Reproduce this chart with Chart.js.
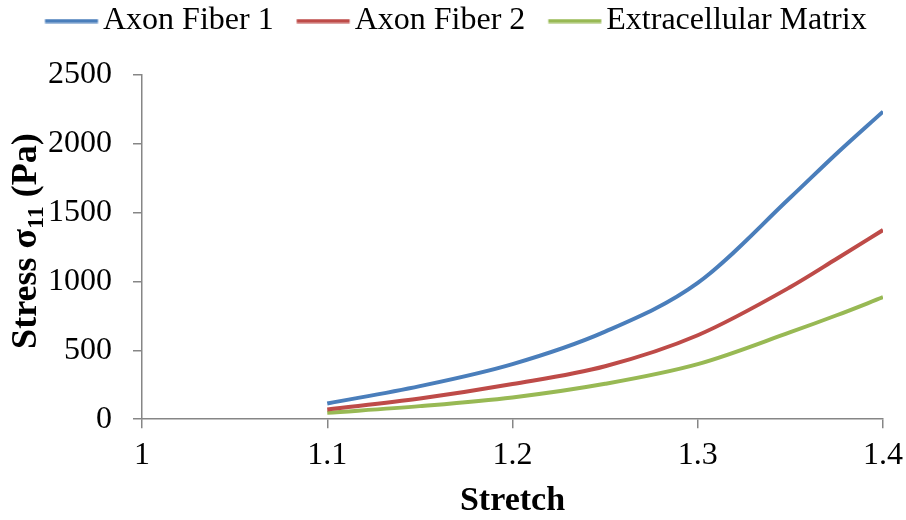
<!DOCTYPE html>
<html><head><meta charset="utf-8">
<script src="https://cdn.jsdelivr.net/npm/chart.js@4"></script>
<style>html,body{margin:0;padding:0;background:#fff;} #wrap{width:906px;height:520px;}</style>
</head><body><div id="wrap"><canvas id="c" width="906" height="520"></canvas></div>
<script>
const stretch = [1.1, 1.15, 1.2, 1.25, 1.3, 1.35, 1.375, 1.4];
const axonFiber1 = [114, 240, 400, 636, 990, 1610, 1930, 2234];
const axonFiber2 = [71, 150, 255, 385, 610, 960, 1165, 1374];
const extracellularMatrix = [46, 95, 158, 257, 400, 632, 755, 886];
const seriesNames = ['Axon Fiber 1', 'Axon Fiber 2', 'Extracellular Matrix'];
const xTickLabels = ['1', '1.1', '1.2', '1.3', '1.4'];
const yTickLabels = ['0', '500', '1000', '1500', '2000', '2500'];
const xTitle = 'Stretch';
const yTitleParts = ['Stress σ', '11', ' (Pa)'];

const colors = ['#4A7EBB', '#BE4B48', '#98B954'];
const FONT = "'Liberation Serif', 'Times New Roman', serif";
Chart.defaults.font.family = FONT;
Chart.defaults.color = '#000';

function legendLine(color) {
  const c = document.createElement('canvas');
  c.width = 90; c.height = 5;
  const g = c.getContext('2d');
  g.strokeStyle = color; g.lineWidth = 4;
  g.beginPath(); g.moveTo(32.5, 2.5); g.lineTo(85.5, 2.5); g.stroke();
  return c;
}

function pts(ys) { return stretch.map((x, i) => ({x: x, y: ys[i]})); }
const allSeries = [axonFiber1, axonFiber2, extracellularMatrix];

const datasets = allSeries.map((s, i) => ({
  label: seriesNames[i],
  data: pts(s),
  borderColor: colors[i],
  backgroundColor: colors[i],
  borderWidth: 4,
  pointRadius: 0,
  pointHoverRadius: 0,
  pointStyle: legendLine(colors[i]),
  cubicInterpolationMode: 'monotone',
  fill: false
}));

const legendSpace = {
  id: 'legendSpace',
  beforeLayout(chart) {
    const lg = chart.legend;
    if (lg && !lg._patched) {
      const fit = lg.fit.bind(lg);
      lg.fit = function () { fit(); this.height += 28; };
      lg._patched = true;
    }
  }
};

const yTitlePlugin = {
  id: 'yTitle',
  afterDraw(chart) {
    const ctx = chart.ctx;
    const a = chart.chartArea;
    const cy = (a.top + a.bottom) / 2 - 6;
    const bx = 36;
    const big = 'bold 36px ' + FONT, small = 'bold 24px ' + FONT;
    ctx.save();
    ctx.font = big; const w0 = ctx.measureText(yTitleParts[0]).width;
    const w2 = ctx.measureText(yTitleParts[2]).width;
    ctx.font = small; const w1 = ctx.measureText(yTitleParts[1]).width;
    const total = w0 + w1 + w2;
    ctx.translate(bx, cy);
    ctx.rotate(-Math.PI / 2);
    ctx.fillStyle = '#000';
    ctx.textBaseline = 'alphabetic';
    ctx.textAlign = 'left';
    let x = -total / 2;
    ctx.font = big; ctx.fillText(yTitleParts[0], x, 0); x += w0;
    ctx.font = small; ctx.fillText(yTitleParts[1], x, 7); x += w1;
    ctx.font = big; ctx.fillText(yTitleParts[2], x, 0);
    ctx.restore();
  }
};

new Chart(document.getElementById('c'), {
  type: 'line',
  data: {datasets: datasets},
  plugins: [legendSpace, yTitlePlugin],
  options: {
    responsive: false,
    animation: false,
    layout: {padding: {left: 22, right: 0, top: -1, bottom: 0}},
    plugins: {
      tooltip: {enabled: false},
      legend: {
        position: 'top',
        align: 'start',
        labels: {
          usePointStyle: true,
          pointStyleWidth: 59,
          padding: 6,
          color: '#000',
          font: {size: 32, family: FONT}
        }
      }
    },
    scales: {
      x: {
        type: 'linear', min: 1, max: 1.4,
        afterFit: (scale) => { scale.paddingRight = 23; },
        ticks: {stepSize: 0.1, autoSkip: false, maxRotation: 0, padding: 8,
          font: {size: 32}, color: '#000',
          callback: (v, i) => xTickLabels[i]},
        grid: {drawOnChartArea: false, drawTicks: true, tickLength: 9, color: '#868686', lineWidth: 1.5},
        border: {color: '#868686', width: 1.5},
        title: {display: true, text: xTitle, color: '#000',
          font: {size: 34, weight: 'bold', lineHeight: 1.1}, padding: {top: 0, bottom: 0}}
      },
      y: {
        min: 0, max: 2500,
        afterFit: (scale) => { scale.width += 5; },
        ticks: {stepSize: 500, padding: 21, font: {size: 32}, color: '#000',
          callback: (v, i) => yTickLabels[i]},
        grid: {drawOnChartArea: false, drawTicks: true, tickLength: 9, color: '#868686', lineWidth: 1.5},
        border: {color: '#868686', width: 1.5}
      }
    }
  }
});
</script></body></html>
